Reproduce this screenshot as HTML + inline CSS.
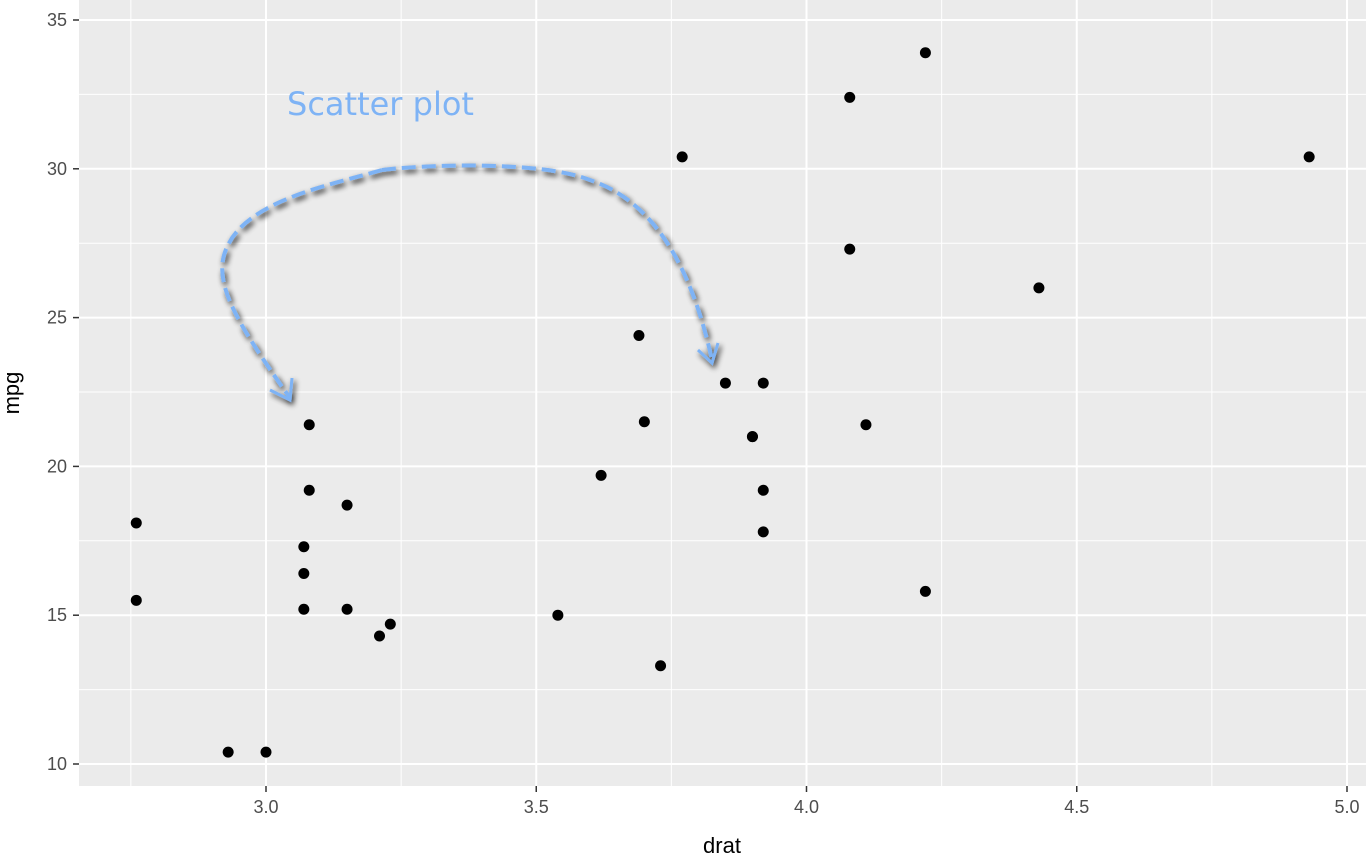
<!DOCTYPE html>
<html><head><meta charset="utf-8"><style>
body{margin:0;background:#fff;}
svg{display:block;font-family:"Liberation Sans",sans-serif;}
</style></head><body>
<svg id="chart" width="1372" height="864">
<defs><filter id="sh" x="-20%" y="-20%" width="140%" height="140%"><feGaussianBlur in="SourceAlpha" stdDeviation="3"/><feOffset dx="2" dy="3"/><feComponentTransfer><feFuncA type="linear" slope="0.85"/></feComponentTransfer><feMerge><feMergeNode/><feMergeNode in="SourceGraphic"/></feMerge></filter></defs>
<rect x="79" y="0" width="1287" height="786" fill="#ebebeb"/>
<g id="grid"></g><g id="axes"></g><g id="pts"></g>
<g filter="url(#sh)" fill="none" stroke="#7eb3f5" stroke-width="4" stroke-dasharray="14,6">
<path d="M382,170 C330,185 250,200 228,245 C210,280 235,320 290,398"/>
<path d="M270,390 L290,400 L292,378" stroke-dasharray="none" stroke-width="3"/>
<path d="M382,170 C420,165 540,160 590,180 C650,200 690,260 712,360"/>
<path d="M698,350 L712,363 L718,343" stroke-dasharray="none" stroke-width="3"/>
</g>
<text x="287" y="115" font-family="'DejaVu Sans',sans-serif" font-size="32" fill="#7eb3f5">Scatter plot</text>
<text x="722" y="853" font-size="22" text-anchor="middle" fill="#000">drat</text>
<text transform="translate(19,393) rotate(-90)" font-size="22" text-anchor="middle" fill="#000">mpg</text>
</svg>
<script>
const drat=[3.90,3.90,3.85,3.08,3.15,2.76,3.21,3.69,3.92,3.92,3.92,3.07,3.07,3.07,2.93,3.00,3.23,4.08,4.93,4.22,3.70,2.76,3.15,3.73,3.08,4.08,4.43,3.77,4.22,3.62,3.54,4.11];
const mpg=[21.0,21.0,22.8,21.4,18.7,18.1,14.3,24.4,22.8,19.2,17.8,16.4,17.3,15.2,10.4,10.4,14.7,32.4,30.4,33.9,21.5,15.5,15.2,13.3,19.2,27.3,26.0,30.4,15.8,19.7,15.0,21.4];
const xTicks=[3.0,3.5,4.0,4.5,5.0];
const xTickLabels=["3.0","3.5","4.0","4.5","5.0"];
const yTicks=[10,15,20,25,30,35];
const yTickLabels=["10","15","20","25","30","35"];
const X=v=>266+(v-3)*540.5, Y=v=>764-(v-10)*29.76;
const NS="http://www.w3.org/2000/svg";
function mk(p,t,a){const e=document.createElementNS(NS,t);for(const k in a)e.setAttribute(k,a[k]);document.getElementById(p).appendChild(e);return e;}
xTicks.forEach((v,i)=>{
 const m=v-0.25;const l=mk('grid','line',{x1:X(m),x2:X(m),y1:0,y2:786,stroke:'#fff','stroke-width':1});
 
 
 const g=mk('grid','line',{x1:X(v),x2:X(v),y1:0,y2:786,stroke:'#fff','stroke-width':2});
 
 
 mk('axes','line',{x1:X(v),x2:X(v),y1:786,y2:792,stroke:'#333','stroke-width':1.5});
 const t=mk('axes','text',{x:X(v),y:813,'font-size':18,'text-anchor':'middle',fill:'#4d4d4d'});t.textContent=xTickLabels[i];
 
 
});
yTicks.forEach((v,i)=>{
 if(i>0){const m=v-2.5;const l=mk('grid','line',{x1:79,x2:1366,y1:Y(m),y2:Y(m),stroke:'#fff','stroke-width':1});
 
 }
 const g=mk('grid','line',{x1:79,x2:1366,y1:Y(v),y2:Y(v),stroke:'#fff','stroke-width':2});
 
 
 mk('axes','line',{x1:73,x2:79,y1:Y(v),y2:Y(v),stroke:'#333','stroke-width':1.5});
 const t=mk('axes','text',{x:67,y:Y(v)+6,'font-size':18,'text-anchor':'end',fill:'#4d4d4d'});t.textContent=yTickLabels[i];
 
 
});
drat.forEach((d,i)=>{
 const c=mk('pts','circle',{cx:X(d),cy:Y(mpg[i]),r:5.5,fill:'#000'});
 
 
});
</script>
</body></html>
